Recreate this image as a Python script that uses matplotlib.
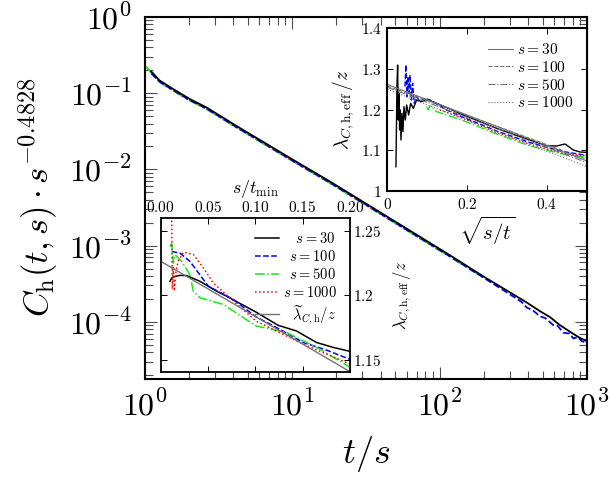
import math
import matplotlib
matplotlib.use("Agg")
import matplotlib.pyplot as plt
from matplotlib.ticker import LogLocator, FuncFormatter, FixedLocator, NullFormatter

plt.rcParams['mathtext.fontset'] = 'cm'
plt.rcParams['font.family'] = ['DejaVu Serif']

# ---------------- main panel data: t/s vs C_h(t,s) s^-0.4828 ----------------
x_s30 = [1.109, 1.265, 1.556, 2.021, 2.624, 4.194, 10.0, 18.03, 28.84, 56.23, 117.8, 198.2,
         390.0, 480.8, 562.3, 656.1, 809.1, 897.4, 995.4]
y_s30 = [0.1932, 0.1469, 0.1140, 0.0841, 0.0652, 0.03724, 0.01361, 0.00695, 0.00398, 0.001799,
         0.000745, 0.000394, 0.0001791, 0.0001374, 0.0001148, 9.016e-5, 6.918e-5, 6.124e-5, 5.572e-5]

x_s100 = [1.116, 1.265, 1.556, 2.021, 2.624, 4.194, 10.0, 18.03, 28.84, 56.23, 117.8, 198.2,
          300.0, 360.0, 390.0, 430.0, 480.8, 520.0, 589.0, 630.0, 692.0, 760.0, 809.0, 870.0, 920.0, 1000.0]
y_s100 = [0.1803, 0.1419, 0.1102, 0.0813, 0.0630, 0.0360, 0.01315, 0.00672, 0.00385, 0.001738,
          0.000720, 0.000381, 0.000229, 0.000182, 0.000154, 0.000141, 0.0001175, 0.000112, 9.08e-5,
          8.9e-5, 7.18e-5, 7.0e-5, 6.04e-5, 6.3e-5, 5.57e-5, 5.28e-5]

x_s500 = [1.011, 1.10, 1.265, 1.556, 2.021, 2.624, 4.194, 10.0, 18.03, 28.84, 56.23, 117.8, 200.0]
y_s500 = [0.228, 0.1905, 0.140, 0.1086, 0.0803, 0.0622, 0.0356, 0.01300, 0.00664, 0.00380,
          0.001718, 0.000711, 0.000375]

x_s1000 = [1.0, 1.265, 1.556, 2.021, 2.624, 4.194, 10.0, 18.03, 28.84, 56.23, 100.0]
y_s1000 = [0.232, 0.1403, 0.1088, 0.0804, 0.0623, 0.0356, 0.0130, 0.00664, 0.00380, 0.001718, 0.000865]

# ---------------- upper-right inset: sqrt(s/t) vs lambda_eff/z ----------------
u_s30 = [0.0217, 0.0242, 0.0259, 0.0276, 0.0293, 0.0309, 0.0326, 0.0343, 0.0368, 0.0393, 0.0418,
         0.0452, 0.0485, 0.0535, 0.0585, 0.0652, 0.0736, 0.0861, 0.0987, 0.1237, 0.1572, 0.1906,
         0.2324, 0.2742, 0.3161, 0.3579, 0.3997, 0.4247, 0.4457, 0.4666, 0.4833, 0.5]
l_s30 = [1.0598, 1.2566, 1.3098, 1.1746, 1.2402, 1.150, 1.1992, 1.1254, 1.191, 1.1459, 1.2074,
         1.1746, 1.2115, 1.1869, 1.2156, 1.2033, 1.2238, 1.2197, 1.2254, 1.2156, 1.2016, 1.1869,
         1.1705, 1.1541, 1.1393, 1.1254, 1.1115, 1.1107, 1.1156, 1.1008, 1.0959, 1.095]
u_s100 = [0.0443, 0.0468, 0.0493, 0.0518, 0.0543, 0.0569, 0.0602, 0.0635, 0.0677, 0.0736, 0.0819,
          0.0945, 0.107, 0.1488, 0.1906, 0.2742, 0.3579, 0.3997, 0.4415, 0.5]
l_s100 = [1.2566, 1.3098, 1.232, 1.2811, 1.2402, 1.2852, 1.2238, 1.2648, 1.2156, 1.232, 1.2197,
          1.2279, 1.2238, 1.1992, 1.1811, 1.1475, 1.1189, 1.1074, 1.0967, 1.0877]
u_s500 = [0.0987, 0.1028, 0.107, 0.1237, 0.1488, 0.1906, 0.2742, 0.3579, 0.4415, 0.5]
l_s500 = [1.2074, 1.1992, 1.209, 1.1951, 1.1869, 1.173, 1.1402, 1.1107, 1.0902, 1.0828]
u_s1000 = [0.1321, 0.1906, 0.2742, 0.3579, 0.4415, 0.5]
l_s1000 = [1.1992, 1.1787, 1.1434, 1.1148, 1.0926, 1.0861]
fit_u = [0.0, 0.5]
fit_s30 = [1.262, 1.074]
fit_s100 = [1.258, 1.078]
fit_s500 = [1.255, 1.070]
fit_s1000 = [1.250, 1.060]

# ---------------- lower-left inset: s/t_min vs lambda_eff/z ----------------
v_s30 = [0.0098, 0.0116, 0.0151, 0.0204, 0.0274, 0.0415, 0.0591, 0.0661, 0.1006, 0.1241, 0.1435,
         0.1646, 0.1822, 0.2]
m_s30 = [1.211, 1.2136, 1.2148, 1.2156, 1.2154, 1.211, 1.2033, 1.2008, 1.1872, 1.1769, 1.1725,
         1.1636, 1.1598, 1.1567]
v_s100 = [0.0116, 0.0204, 0.0309, 0.0503, 0.0766, 0.1006, 0.1259, 0.1505, 0.1752, 0.2]
m_s100 = [1.2341, 1.2328, 1.2264, 1.2072, 1.1969, 1.1835, 1.1738, 1.1636, 1.1577, 1.1505]
v_s500 = [0.0098, 0.0116, 0.0133, 0.0151, 0.0221, 0.0309, 0.0344, 0.0415, 0.0661, 0.1006, 0.133,
          0.168, 0.2]
m_s500 = [1.2379, 1.2405, 1.2251, 1.2315, 1.2264, 1.216, 1.2033, 1.1982, 1.1931, 1.1764, 1.1713,
          1.1585, 1.1444]
v_s1000 = [0.0114, 0.0116, 0.0123, 0.0134, 0.0144, 0.0162, 0.0187, 0.024, 0.0345, 0.045, 0.0555,
           0.1006, 0.1505, 0.2]
m_s1000 = [1.28, 1.26, 1.205, 1.2225, 1.2035, 1.2185, 1.227, 1.2335, 1.2318, 1.2215, 1.2097,
           1.1802, 1.1623, 1.1469]
tilde_v = [0.0, 0.2]
tilde_m = [1.2265, 1.141]

s_labels = ['30', '100', '500', '1000']

W, H = 610, 479
fig = plt.figure(figsize=(W / 100, H / 100), dpi=100)


def frac(x0, y0, x1, y1):
    return [x0 / W, 1 - y1 / H, (x1 - x0) / W, (y1 - y0) / H]


GREEN = (0.1, 0.9, 0.1)

# ---- main axes
ax = fig.add_axes(frac(144.5, 17, 587, 378.5))
ax.plot(x_s1000, y_s1000, color='red', ls=':', lw=1.3)
ax.plot(x_s500, y_s500, color=GREEN, ls='-.', lw=1.3)
ax.plot(x_s100, y_s100, color='blue', ls='--', lw=1.3)
ax.plot(x_s30, y_s30, color='black', ls='-', lw=1.3)
ax.set_xscale('log')
ax.set_yscale('log')
ax.set_xlim(1, 1000)
ax.set_ylim(1.8e-5, 1.0)
logfmt = FuncFormatter(lambda v, p: r'$10^{%d}$' % round(math.log10(v)))
ax.xaxis.set_major_locator(LogLocator(base=10, numticks=10))
ax.yaxis.set_major_locator(LogLocator(base=10, numticks=10))
ax.xaxis.set_major_formatter(logfmt)
ax.yaxis.set_major_formatter(logfmt)
ax.xaxis.set_minor_formatter(NullFormatter())
ax.yaxis.set_minor_formatter(NullFormatter())
ax.tick_params(which='both', direction='in', top=True, right=True, labelsize=23, width=0.8, color='0.3')
ax.tick_params(which='major', length=8.5, pad=9)
ax.tick_params(which='minor', length=5.5)
for sp in ax.spines.values():
    sp.set_linewidth(1.5)
ax.set_xlabel(r'$t/s$', fontsize=26, labelpad=8)
ax.set_ylabel(r'$C_\mathrm{h}(t,s)\cdot s^{-0.4828}$', fontsize=25, labelpad=6)

# ---- upper-right inset
ai = fig.add_axes(frac(387.3, 28.3, 586.7, 191))
ai.plot(u_s30, l_s30, color='black', lw=1.0)
ai.plot(u_s100, l_s100, color='blue', ls='--', lw=1.0)
ai.plot(u_s500, l_s500, color=GREEN, ls='-.', lw=1.0)
ai.plot(u_s1000, l_s1000, color='red', ls=':', lw=1.0)
for fit, ls, lab in zip([fit_s30, fit_s100, fit_s500, fit_s1000], ['-', '--', '-.', ':'], s_labels):
    ai.plot(fit_u, fit, color='0.45', ls=ls, lw=0.8, label=r'$s=%s$' % lab)
ai.set_xlim(0, 0.5)
ai.set_ylim(1.0, 1.4)
ai.xaxis.set_major_locator(FixedLocator([0, 0.2, 0.4]))
ai.xaxis.set_major_formatter(FuncFormatter(lambda v, p: r'$%g$' % round(v, 2)))
ai.yaxis.set_major_locator(FixedLocator([1.0, 1.1, 1.2, 1.3, 1.4]))
ai.yaxis.set_major_formatter(FuncFormatter(lambda v, p: r'$%g$' % round(v, 2)))
ai.tick_params(direction='in', top=True, right=True, labelsize=11, length=4.5, width=0.7, pad=4)
for sp in ai.spines.values():
    sp.set_linewidth(1.5)
ai.set_xlabel(r'$\sqrt{s/t}$', fontsize=15, labelpad=2)
ai.set_ylabel(r'$\lambda_{C,\mathrm{h,eff}}\,/z$', fontsize=14, labelpad=3)
ai.legend(loc='upper right', frameon=False, fontsize=11, handlelength=1.65, labelspacing=0.18,
          borderaxespad=0.5, borderpad=0.4, handletextpad=0.25)

# ---- lower-left inset (labels right-aligned with en-spaces = one digit width)
bi = fig.add_axes(frac(160.7, 218.3, 350, 372.3))
EN = r'\enspace'
bi.plot(v_s30, m_s30, color='black', lw=1.1, label=r'$%s%ss=30$' % (EN, EN))
bi.plot(v_s100, m_s100, color='blue', ls='--', lw=1.1, label=r'$%ss=100$' % EN)
bi.plot(v_s500, m_s500, color=GREEN, ls='-.', lw=1.1, label=r'$%ss=500$' % EN)
bi.plot(v_s1000, m_s1000, color='red', ls=':', lw=1.1, label=r'$s=1000$')
bi.plot(tilde_v, tilde_m, color='0.45', lw=1.0,
        label=r'$%s\:\widetilde{\lambda}_{C,\mathrm{h}}/z$' % EN)
bi.set_xlim(0, 0.2)
bi.set_ylim(1.1405, 1.2598)
bi.xaxis.set_major_locator(FixedLocator([0, 0.05, 0.10, 0.15, 0.20]))
bi.xaxis.set_major_formatter(FuncFormatter(lambda v, p: r'$%.2f$' % v))
bi.yaxis.set_major_locator(FixedLocator([1.15, 1.2, 1.25]))
bi.yaxis.set_major_formatter(FuncFormatter(lambda v, p: r'$%g$' % round(v, 2)))
bi.xaxis.tick_top()
bi.xaxis.set_label_position('top')
bi.yaxis.tick_right()
bi.yaxis.set_label_position('right')
bi.tick_params(direction='in', top=True, bottom=True, left=True, right=True,
               labeltop=True, labelbottom=False, labelleft=False, labelright=True,
               labelsize=11, length=4, width=0.7, pad=2.5)
for sp in bi.spines.values():
    sp.set_linewidth(1.3)
bi.set_xlabel(r'$s/t_\mathrm{min}$', fontsize=13, labelpad=5)
bi.set_ylabel(r'$\lambda_{C,\mathrm{h,eff}}\,/z$', fontsize=12, labelpad=7)
bi.legend(loc='upper right', frameon=False, fontsize=10.5, handlelength=1.65, labelspacing=0.2,
          borderaxespad=0.5, borderpad=0.4, handletextpad=0.3)

fig.savefig('out.png', dpi=100)
